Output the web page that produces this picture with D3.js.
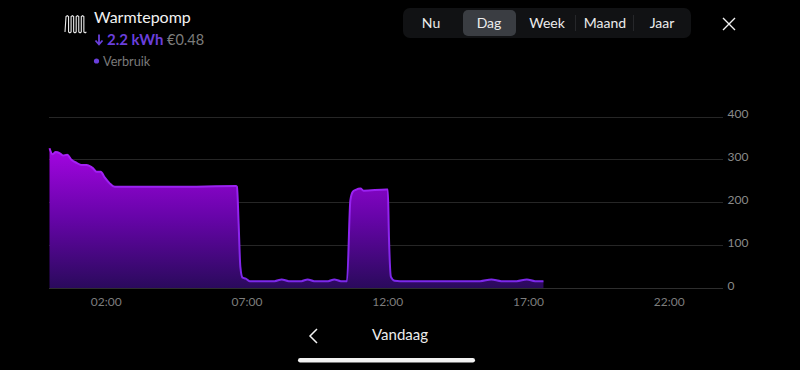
<!DOCTYPE html>
<html>
<head>
<meta charset="utf-8">
<script src="https://cdn.jsdelivr.net/npm/d3@7"></script>
<style>
  html, body { margin: 0; padding: 0; background: #000; overflow: hidden; }
  svg { display: block; font-family: Lato, sans-serif; }
</style>
</head>
<body>
<svg id="chart" width="800" height="370"></svg>
<script>
// Values: hour of day, power
const hours = [0, 0.11, 0.22, 0.37, 0.48, 0.63, 0.78, 0.96, 1.14, 1.31, 1.55, 1.67, 1.82, 1.96, 2.14, 2.32,
  4.5, 6.62, 6.66, 6.72, 6.78, 6.86, 6.97, 7.11, 8.0, 8.25, 8.5, 8.95, 9.17, 9.4, 9.9, 10.12, 10.35,
  10.57, 10.69, 10.78, 10.88, 11.05, 11.16, 11.97, 12.02, 12.06, 12.13, 12.26, 12.45,
  15.3, 15.7, 16.05, 16.6, 16.96, 17.25, 17.55]
const power = [326, 312, 317, 314, 309, 311, 299, 292, 287, 287, 279, 271, 271, 258, 244, 236,
  236, 238, 236, 150, 50, 24, 22, 16, 16, 20, 16, 16, 20, 16, 16, 20, 16,
  16, 205, 225, 229, 232, 227, 230, 230, 120, 26, 17, 16,
  16, 20, 16, 16, 20, 16, 16]

const yTicks = [0, 100, 200, 300, 400]
const xTickHours = [2, 7, 12, 17, 22]
const xTickLabels = ["02:00", "07:00", "12:00", "17:00", "22:00"]
const periods = ["Nu", "Dag", "Week", "Maand", "Jaar"]
const periodCentres = [431, 489, 547, 605, 662]

const svg = d3.select("#chart")

let x = d3.scaleLinear().domain([0, 24]).range([49.5, 725])
let y = d3.scaleLinear().domain([0, 400]).range([288, 116.5])

// Gridlines and axis labels
let yAxis = d3.axisRight(y).tickValues(yTicks).tickSize(0).tickPadding(4)
let yAxisGroup = svg.append("g").attr("transform", "translate(723.5,0)").call(yAxis)
yAxisGroup.select(".domain").remove()
yAxisGroup.selectAll("text")
  .attr("fill", "#8a8a8a").attr("font-size", 12).attr("font-family", "Lato").attr("dy", "0.12em")

svg.append("g").selectAll("line")
  .data(yTicks)
  .enter()
  .append("line")
  .attr("x1", 49).attr("x2", 723)
  .attr("y1", d => Math.round(y(d)) + 0.5).attr("y2", d => Math.round(y(d)) + 0.5)
  .attr("stroke", d => d == 0 ? "#2e2e2e" : "#262626")

let xAxis = d3.axisBottom(x).tickValues(xTickHours).tickFormat((d, i) => xTickLabels[i]).tickSize(0).tickPadding(9)
let xAxisGroup = svg.append("g").attr("transform", "translate(0,288)").call(xAxis)
xAxisGroup.select(".domain").remove()
xAxisGroup.selectAll("text")
  .attr("fill", "#7d7d7d").attr("font-size", 12).attr("font-family", "Lato")

// Area and line gradients
let defs = svg.append("defs")
let gradient = defs.append("linearGradient")
  .attr("id", "fill")
  .attr("gradientUnits", "userSpaceOnUse")
  .attr("x1", 0).attr("x2", 0).attr("y1", y(326)).attr("y2", y(0))
gradient.append("stop").attr("offset", 0).attr("stop-color", "#a405e2")
gradient.append("stop").attr("offset", 0.5).attr("stop-color", "#6604a8")
gradient.append("stop").attr("offset", 1).attr("stop-color", "#2a0a5c")

let strokeGradient = defs.append("linearGradient")
  .attr("id", "stroke")
  .attr("gradientUnits", "userSpaceOnUse")
  .attr("x1", 0).attr("x2", 0).attr("y1", y(326)).attr("y2", y(0))
strokeGradient.append("stop").attr("offset", 0).attr("stop-color", "#a81ff5")
strokeGradient.append("stop").attr("offset", 1).attr("stop-color", "#7a28ea")

let area = d3.area()
  .x((d, i) => x(hours[i]))
  .y0(y(0))
  .y1(d => y(d))
  .curve(d3.curveMonotoneX)
let line = d3.line()
  .x((d, i) => x(hours[i]))
  .y(d => y(d))
  .curve(d3.curveMonotoneX)

svg.append("path").datum(power).attr("d", area).attr("fill", "url(#fill)")
svg.append("path").datum(power).attr("d", line)
  .attr("fill", "none").attr("stroke", "url(#stroke)").attr("stroke-width", 2)

// Header
let icon = d3.path()
icon.moveTo(65, 32)
for (let i = 0; i < 8; i++) {
  let vx = 66 + i * 2.55
  icon.lineTo(vx, i % 2 ? 32 : 16.5)
  icon.lineTo(vx + 1.3, i % 2 ? 32.8 : 15.7)
  icon.lineTo(vx + 2.55, i % 2 ? 32 : 16.5)
}
svg.append("path")
  .attr("d", icon.toString())
  .attr("fill", "none").attr("stroke", "#e8e8e8").attr("stroke-width", 1.1)
svg.append("text").attr("x", 94).attr("y", 23).attr("fill", "#f2f2f2").attr("font-size", 16).text("Warmtepomp")
svg.append("path")
  .attr("d", "M99 34.5V44M95.5 40.5L99 44.5L102.5 40.5")
  .attr("fill", "none").attr("stroke", "#6a3fdc").attr("stroke-width", 1.8)
svg.append("text").attr("x", 107).attr("y", 45).attr("fill", "#6a3fdc").attr("font-size", 15).attr("font-weight", 700).text("2.2 kWh")
svg.append("text").attr("x", 167).attr("y", 45).attr("fill", "#7c7c7c").attr("font-size", 14.5).text("€0.48")
svg.append("circle").attr("cx", 96.5).attr("cy", 61).attr("r", 2.6).attr("fill", "#6a3fdc")
svg.append("text").attr("x", 103).attr("y", 66).attr("fill", "#7a7a7a").attr("font-size", 12.7).text("Verbruik")

// Period switch
svg.append("rect").attr("x", 403).attr("y", 8).attr("width", 288).attr("height", 30).attr("rx", 7).attr("fill", "#111214")
svg.append("rect").attr("x", 463).attr("y", 10).attr("width", 53).attr("height", 26).attr("rx", 5).attr("fill", "#3a3d42")
svg.append("g").selectAll("line")
  .data([575.5, 633.5])
  .enter()
  .append("line")
  .attr("x1", d => d).attr("x2", d => d).attr("y1", 15).attr("y2", 31).attr("stroke", "#26272a")
svg.append("g").selectAll("text")
  .data(periods)
  .enter()
  .append("text")
  .attr("x", (d, i) => periodCentres[i]).attr("y", 28)
  .attr("text-anchor", "middle").attr("fill", "#ececec").attr("font-size", 14).attr("font-family", "Lato")
  .text(d => d)

// Close button, day navigation, home bar
svg.append("path").attr("d", "M723 18L735 30M735 18L723 30")
  .attr("fill", "none").attr("stroke", "#f2f2f2").attr("stroke-width", 1.4)
svg.append("path").attr("d", "M317 329L310 336L317 343")
  .attr("fill", "none").attr("stroke", "#f2f2f2").attr("stroke-width", 1.5)
svg.append("text").attr("x", 400).attr("y", 340).attr("text-anchor", "middle")
  .attr("fill", "#ececec").attr("font-size", 15).text("Vandaag")
svg.append("rect").attr("x", 298).attr("y", 358).attr("width", 177).attr("height", 4.5).attr("rx", 2.2).attr("fill", "#f2f2f2")
</script>
</body>
</html>
